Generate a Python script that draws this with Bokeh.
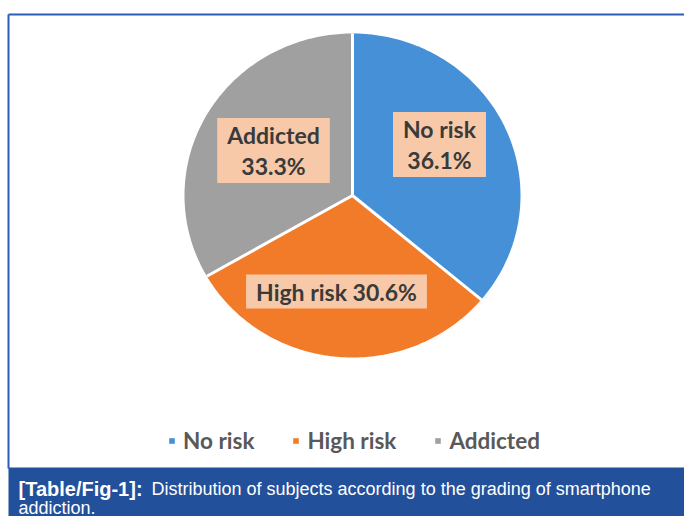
import numpy as np
from bokeh.plotting import figure
from bokeh.models import Range1d, Legend, LegendItem
from bokeh.core.properties import value
from bokeh.embed import file_html
from bokeh.resources import INLINE

# ---- data ----
categories = ["No risk", "High risk", "Addicted"]
percentages = [36.1, 30.6, 33.3]
label_separators = ["\n", " ", "\n"]
colors = ["#4590D6", "#F27B29", "#A0A0A0"]
caption_bold = "[Table/Fig-1]:"
caption_line1 = "Distribution of subjects according to the grading of smartphone"
caption_line2 = "addiction."

W, H = 684, 516
p = figure(width=W, height=H, output_backend="svg", toolbar_location=None,
           x_range=Range1d(0, W), y_range=Range1d(H, 0), min_border=0)
p.axis.visible = False
p.grid.visible = False
p.outline_line_color = None
p.background_fill_color = "white"
p.border_fill_color = "white"

# frame
p.segment(x0=[8, 8], y0=[14, 14], x1=[W, 8], y1=[14, 468], line_color="#2f5cb4", line_width=2)
# caption band
p.quad(left=[8], right=[W], top=[467], bottom=[H], fill_color="#23509b", line_color=None)

# pie (slightly elliptical as in the reference)
cx, cy, rx, ry = 352, 195, 168, 162
vals = np.array(percentages)
cum = np.concatenate([[0], np.cumsum(vals) / vals.sum()])
renderers = []
for i, cat in enumerate(categories):
    th = np.linspace(cum[i], cum[i + 1], 120) * 2 * np.pi
    xs = np.concatenate([[cx], cx + rx * np.sin(th)])
    ys = np.concatenate([[cy], cy - ry * np.cos(th)])
    r = p.patch(xs, ys, fill_color=colors[i], line_color=None)
    renderers.append(r)
# white separators
th_b = cum[:-1] * 2 * np.pi
p.segment(x0=[cx] * len(th_b), y0=[cy] * len(th_b),
          x1=list(cx + rx * np.sin(th_b)), y1=list(cy - ry * np.cos(th_b)),
          line_color="white", line_width=3)

# data labels
labels = [f"{c}{s}{v}%" for c, s, v in zip(categories, label_separators, percentages)]
lab_x = [439, 336, 273]
lab_y = [144, 291, 150]
p.text(x=lab_x, y=lab_y, text=labels, text_align="center", text_baseline="middle",
       text_font=value("Lato"), text_font_style="bold", text_font_size="23px",
       text_color="#3a3a3a", text_line_height=1.1,
       background_fill_color="#F7C9A9", padding=(10, 3))

# legend
legend = Legend(items=[LegendItem(label=c, renderers=[r]) for c, r in zip(categories, renderers)],
                orientation="horizontal", location=(168, 62),
                glyph_width=7, glyph_height=7, label_standoff=8, spacing=38,
                label_text_font="Lato", label_text_font_style="bold",
                label_text_font_size="22.5px", label_text_color="#595959",
                border_line_color=None, background_fill_alpha=0, padding=0, margin=0)
p.add_layout(legend, "center")

# caption
p.text(x=[18], y=[488], text=[caption_bold], text_baseline="middle",
       text_font=value("Liberation Sans"), text_font_style="bold",
       text_font_size="20px", text_color="white")
p.text(x=[151, 18], y=[488, 507], text=[caption_line1, caption_line2], text_baseline="middle",
       text_font=value("Liberation Sans"), text_font_size="18px", text_color="white")

open("out.html", "w").write(file_html(p, INLINE))
